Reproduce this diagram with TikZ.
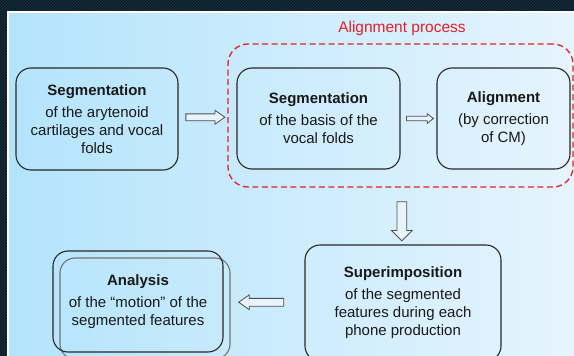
\documentclass[tikz,border=0pt]{standalone}
\usepackage{fontspec}
\setmainfont{Liberation Sans}
\usetikzlibrary{arrows.meta, positioning, shapes.arrows, shadows, calc, patterns}
\definecolor{flow_frame}{RGB}{12, 30, 42}
\definecolor{flow_stripe}{RGB}{30, 52, 66}
\definecolor{flow_left}{RGB}{179, 228, 252}
\definecolor{flow_right}{RGB}{230, 244, 253}
\definecolor{flow_line}{RGB}{40, 40, 40}
\definecolor{flow_alert}{RGB}{226, 32, 40}
\definecolor{flow_arrow}{RGB}{80, 80, 80}
\definecolor{flow_fill}{RGB}{232, 244, 251}

\begin{document}
\begin{tikzpicture}[x=1pt, y=-1pt,
    stagebox/.style={draw=flow_line, line width=1.1pt, rounded corners=15pt,
      align=center, text=black!90, inner sep=2pt,
      font=\fontsize{15}{18}\selectfont},
    hollowarrow/.style={single arrow, draw=flow_arrow, fill=flow_fill,
      line width=0.8pt}]

        % --- Frame and panel ---
        \useasboundingbox (0,0) rectangle (574,356);
        \clip (0,0) rectangle (574,356);
        \fill[flow_frame] (0,0) rectangle (574,356);
        \fill[pattern=north east lines, pattern color=flow_stripe] (0,0) rectangle (574,356);
        \shade[left color=flow_left, right color=flow_right] (7,11) rectangle (574,356);
        \draw[white, line width=2pt] (8,356) -- (8,12) -- (574,12);

        % Alignment process (dashed group)
        \node[draw=flow_alert, dashed, dash pattern=on 6pt off 3.5pt, line width=1.3pt,
          rounded corners=20pt, minimum width=345pt, minimum height=143pt] (procbox) at (400.5,115.5) {};
        \node[text=flow_alert, font=\fontsize{15.5}{18}\selectfont] (proclabel) at (402,28) {Alignment process};

        % Stages
        \node[stagebox, minimum width=162pt, minimum height=102pt] (segA) at (97,119)
          {\textbf{Segmentation}\\[4pt] of the arytenoid\\ cartilages and vocal\\ folds};
        \node[stagebox, minimum width=163pt, minimum height=101pt] (segB) at (318.5,118.5)
          {\textbf{Segmentation}\\[4pt] of the basis of the\\ vocal folds};
        \node[stagebox, minimum width=133pt, minimum height=101pt] (alignC) at (503.5,118.5)
          {\textbf{Alignment}\\[4pt] (by correction\\ of CM)};
        \node[stagebox, minimum width=196pt, minimum height=116pt] (superD) at (403,303)
          {\textbf{Superimposition}\\[4pt] of the segmented\\ features during each\\ phone production};
        \node[stagebox, minimum width=170pt, minimum height=101pt,
          copy shadow={shadow xshift=7pt, shadow yshift=-7pt, draw=flow_arrow!80, fill=none}] (analysisE) at (138,301.5)
          {\textbf{Analysis}\\[4pt] of the “motion” of the\\ segmented features};

        % Arrows
        \node[hollowarrow, inner sep=3pt, minimum height=39pt, single arrow head extend=3.5pt,
          single arrow tip angle=70] (arrAB) at ($(segA.east)!0.5!(procbox.west)$) {};
        \node[hollowarrow, inner sep=1.8pt, minimum height=27pt, single arrow head extend=2.5pt,
          single arrow tip angle=75] (arrBC) at ($(segB.east)!0.5!(alignC.west)$) {};
        \node[hollowarrow, inner sep=4.5pt, minimum height=39pt, single arrow head extend=5.5pt,
          shape border rotate=270] (arrCD) at ($(procbox.south)!0.55!(superD.north)$) {};
        \node[hollowarrow, inner sep=3.5pt, minimum height=45pt, single arrow head extend=3.5pt,
          single arrow tip angle=70, shape border rotate=180] (arrDE) at ($(analysisE.east)!0.5!(superD.west)$) {};
      \end{tikzpicture}
\end{document}
